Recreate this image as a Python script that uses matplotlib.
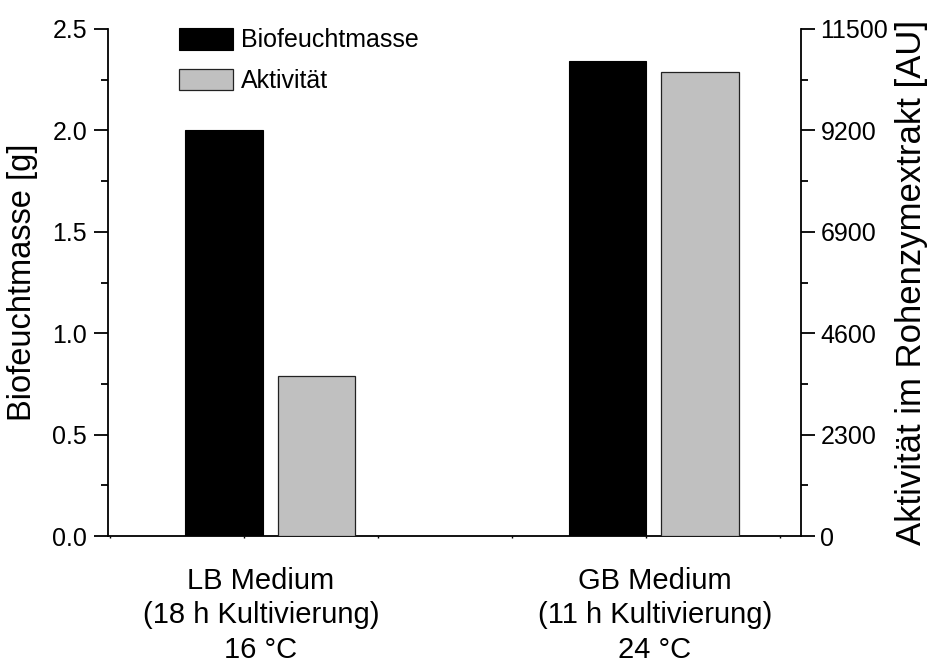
import matplotlib
matplotlib.use("Agg")
import matplotlib.pyplot as plt
from matplotlib.ticker import MultipleLocator, FixedLocator

plt.rcParams['font.family'] = ['Liberation Sans', 'DejaVu Sans']

# --- data -------------------------------------------------------------
categories = ["LB Medium\n(18 h Kultivierung)\n16 °C",
              "GB Medium\n(11 h Kultivierung)\n24 °C"]
biomass_g = [2.0, 2.34]            # Biofeuchtmasse [g]
activity_au = [3620, 10530]        # Aktivität im Rohenzymextrakt [AU]
series_names = ["Biofeuchtmasse", "Aktivität"]
left_ticks = [0.0, 0.5, 1.0, 1.5, 2.0, 2.5]
right_ticks = [0, 2300, 4600, 6900, 9200, 11500]

# --- layout -----------------------------------------------------------
group_pos = [1.196, 4.058]
label_pos = [1.127, 4.067]
offset = 0.345
width = 0.58

fig = plt.figure(figsize=(9.31, 6.62), dpi=100)
ax = fig.add_axes([108 / 931, 126 / 662, 693 / 931, 507 / 662])
ax2 = ax.twinx()

lw = 1.3
b1 = ax.bar([g - offset for g in group_pos], biomass_g, width=width,
            color='black', edgecolor='black', linewidth=0.8,
            label=series_names[0], zorder=3)
b2 = ax2.bar([g + offset for g in group_pos], activity_au, width=width,
             color='#c0c0c0', edgecolor='#222222', linewidth=0.9,
             label=series_names[1], zorder=3)

ax.set_xlim(-0.015, 5.157)
ax.set_ylim(left_ticks[0], left_ticks[-1])
ax2.set_ylim(right_ticks[0], right_ticks[-1])

for a in (ax, ax2):
    a.spines['top'].set_visible(False)
    for s in a.spines.values():
        s.set_linewidth(lw)
ax.spines['right'].set_visible(False)
ax2.spines['left'].set_visible(False)
ax2.spines['bottom'].set_visible(False)

# left axis
ax.set_yticks(left_ticks)
ax.set_yticklabels([f"{v:.1f}" for v in left_ticks])
ax.yaxis.set_minor_locator(MultipleLocator(0.25))
ax.tick_params(axis='y', which='major', direction='out', length=10,
               width=lw, labelsize=18, pad=5)
ax.tick_params(axis='y', which='minor', direction='out', length=5, width=lw)

# right axis
ax2.set_yticks(right_ticks)
ax2.set_yticklabels([str(v) for v in right_ticks])
ax2.yaxis.set_minor_locator(MultipleLocator(1150))
ax2.tick_params(axis='y', which='major', direction='out', length=10,
                width=lw, labelsize=18, pad=4)
ax2.tick_params(axis='y', which='minor', direction='out', length=5, width=lw)

# bottom axis: category labels plus small ticks
ax.set_xticks(label_pos)
ax.set_xticklabels(categories, fontsize=21)
for t in ax.get_xticklabels():
    t.set_linespacing(1.3)
ax.tick_params(axis='x', which='major', length=0, pad=22)
ax.xaxis.set_minor_locator(FixedLocator([0, 1, 2, 3, 4, 5]))
ax.tick_params(axis='x', which='minor', direction='out', length=1.5, width=1)

ax.set_ylabel("Biofeuchtmasse [g]", fontsize=23.5)
ax.yaxis.set_label_coords(-0.101, 0.5)
ax2.set_ylabel("Aktivität im Rohenzymextrakt [AU]", fontsize=25)
ax2.yaxis.set_label_coords(1.136, 0.5)

ax.legend(handles=[b1, b2], loc='upper left', bbox_to_anchor=(0.1025, 1.002),
          frameon=False, fontsize=18, handlelength=2.16, handleheight=0.95,
          handletextpad=0.32, labelspacing=0.65, borderpad=0,
          borderaxespad=0)

fig.savefig("out.png", dpi=100)
